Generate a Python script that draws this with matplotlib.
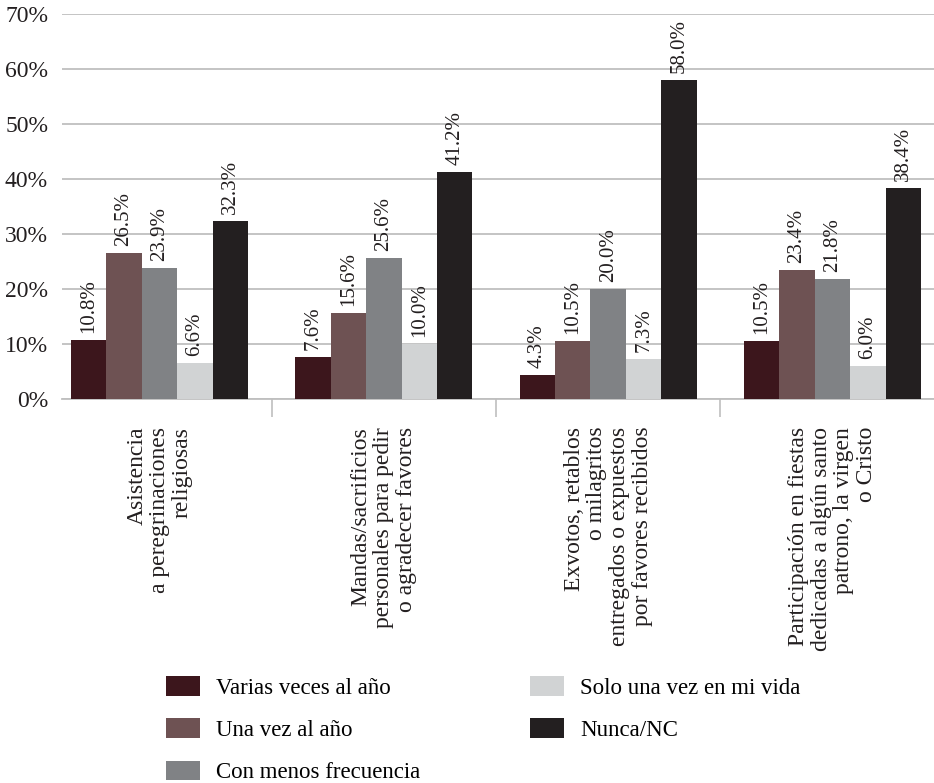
import matplotlib.pyplot as plt
import numpy as np

plt.rcParams['font.family'] = ['Liberation Serif', 'DejaVu Serif']

categorias = [
    'Asistencia\na peregrinaciones\nreligiosas',
    'Mandas/sacrificios\npersonales para pedir\no agradecer favores',
    'Exvotos, retablos\no milagritos\nentregados o expuestos\npor favores recibidos',
    'Participación en fiestas\ndedicadas a algún santo\npatrono, la virgen\no Cristo',
]
series = ['Varias veces al año', 'Una vez al año', 'Con menos frecuencia',
          'Solo una vez en mi vida', 'Nunca/NC']
varias_veces = [10.8, 7.6, 4.3, 10.5]
una_vez = [26.5, 15.6, 10.5, 23.4]
menos_frec = [23.9, 25.6, 20.0, 21.8]
solo_una = [6.6, 10.0, 7.3, 6.0]
nunca = [32.3, 41.2, 58.0, 38.4]
valores = [varias_veces, una_vez, menos_frec, solo_una, nunca]
colores = ['#3c161c', '#6e5253', '#808285', '#d1d3d4', '#231f20']

fig = plt.figure(figsize=(9.34, 7.83), dpi=100)
ax = fig.add_axes([62 / 934, 1 - 399 / 783, 1 - 62 / 934, 385 / 783])

x = np.arange(len(categorias))
ancho = 0.158
for i, (nombre, vals, col) in enumerate(zip(series, valores, colores)):
    pos = x + (i - 2) * ancho
    barras = ax.bar(pos, vals, ancho, color=col, label=nombre, zorder=3)
    for b, v in zip(barras, vals):
        ax.annotate(f'{v:.1f}%', (b.get_x() + b.get_width() / 2, v),
                    xytext=(0, 5), textcoords='offset points',
                    rotation=90, ha='center', va='bottom',
                    fontsize=15, color='#231f20')

ax.set_xlim(-0.434, 3.452)
ax.set_ylim(0, 70)
ax.set_yticks(range(0, 71, 10))
ax.set_yticklabels([f'{t}%' for t in range(0, 71, 10)], fontsize=17, color='#231f20')
ax.yaxis.grid(True, color='#bfbfbf', linewidth=1.3, zorder=0)
ax.tick_params(axis='y', length=0, pad=10)

# category labels, with short separators between groups
ax.set_xticks(x)
ax.set_xticklabels(categorias, rotation=90, fontsize=17, color='#231f20',
                   ha='center', va='top', multialignment='right', linespacing=1.1)
ax.tick_params(axis='x', which='major', length=0, pad=20)
ax.set_xticks(x[:-1] + 0.5, minor=True)
ax.tick_params(axis='x', which='minor', length=13, width=1.2, color='#bfbfbf')

for s in ['top', 'right', 'left']:
    ax.spines[s].set_visible(False)
ax.spines['bottom'].set_color('#bfbfbf')
ax.spines['bottom'].set_linewidth(1.3)

fig.legend(loc='upper left', bbox_to_anchor=(150 / 934, 1 - 660 / 783), ncol=2,
           frameon=False, fontsize=16.5, handlelength=1.5, handleheight=0.95,
           columnspacing=4.75, labelspacing=0.85, handletextpad=0.7, borderaxespad=0.3)

fig.savefig('out.png', dpi=100)
